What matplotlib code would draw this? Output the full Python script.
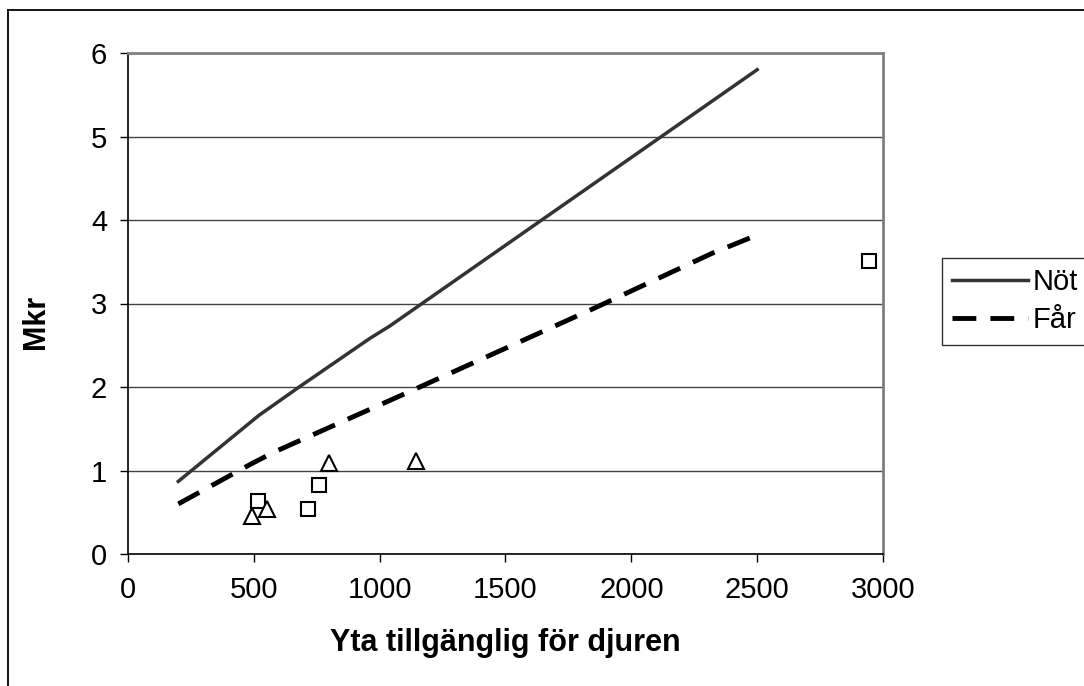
import numpy as np
import matplotlib.pyplot as plt
from matplotlib.lines import Line2D

plt.rcParams['font.family'] = ['Liberation Sans', 'DejaVu Sans']

# linjer (modell)
not_x = [200, 520, 680, 960, 1040, 2500]
not_y = [0.87, 1.66, 2.0, 2.58, 2.73, 5.8]
far_x = [200, 490, 580, 1130, 1850, 2320, 2500]
far_y = [0.6, 1.08, 1.22, 1.96, 2.94, 3.6, 3.82]

# observationer
kvadrat_x = [518, 759, 714, 2944]
kvadrat_y = [0.63, 0.83, 0.54, 3.51]
triangel_x = [494, 551, 799, 1143]
triangel_y = [0.45, 0.535, 1.09, 1.11]

x_ticks = [0, 500, 1000, 1500, 2000, 2500, 3000]
y_ticks = [0, 1, 2, 3, 4, 5, 6]

W, H = 1084, 686
fig = plt.figure(figsize=(W / 100, H / 100), dpi=100)
ax = fig.add_axes([128 / W, 1 - 554 / H, (883 - 128) / W, (554 - 53) / H])

ax.plot(not_x, not_y, color='#333333', lw=2.5, label='Nöt', zorder=3)
ax.plot(far_x, far_y, color='black', lw=3.5, dashes=(4.9, 2.9), label='Får', zorder=3)
ax.plot(kvadrat_x, kvadrat_y, ls='none', marker='s', ms=9.5, mfc='white', mec='black', mew=1.5, zorder=4)
ax.plot(triangel_x, triangel_y, ls='none', marker='^', ms=11, mfc='white', mec='black', mew=1.5, zorder=4)

ax.set_xlim(0, 3000)
ax.set_ylim(0, 6)
ax.set_xticks(x_ticks)
ax.set_yticks(y_ticks)
ax.tick_params(direction='out', length=6, width=1, labelsize=21, color='black')
ax.tick_params(axis='x', pad=10)
ax.tick_params(axis='y', pad=9)

ax.yaxis.grid(True, color='#444444', lw=1)
ax.set_axisbelow(True)
for s in ['top', 'right']:
    ax.spines[s].set_color('#808080')
    ax.spines[s].set_linewidth(2)
for s in ['left', 'bottom']:
    ax.spines[s].set_color('black')
    ax.spines[s].set_linewidth(1.2)

ax.set_xlabel('Yta tillgänglig för djuren', fontsize=22, fontweight='bold', va='center')
ax.xaxis.set_label_coords(0.5, -(643 - 554) / 501)
ax.set_ylabel('Mkr', fontsize=22, fontweight='bold', va='center')
ax.yaxis.set_label_coords((36 - 128) / 755, (554 - 322) / 501)

handles = [Line2D([], [], color='#333333', lw=2.5),
           Line2D([], [], color='black', lw=3.5, dashes=(4.9, 2.9))]
leg = fig.legend(handles, ['Nöt', 'Får'], loc='upper left',
                 bbox_to_anchor=(942 / W, 1 - 258 / H), borderaxespad=0,
                 fontsize=21, handlelength=2.6, handletextpad=0.15,
                 labelspacing=0.35, borderpad=0.35, fancybox=False, frameon=True)
leg.get_frame().set_edgecolor('black')
leg.get_frame().set_linewidth(1)

# ram runt diagrammet
fig.add_artist(Line2D([8 / W, 8 / W], [0, 1 - 10 / H], color='black', lw=1.3))
fig.add_artist(Line2D([8 / W, 1], [1 - 10 / H, 1 - 10 / H], color='black', lw=1.3))

fig.savefig('out.png', dpi=100)
